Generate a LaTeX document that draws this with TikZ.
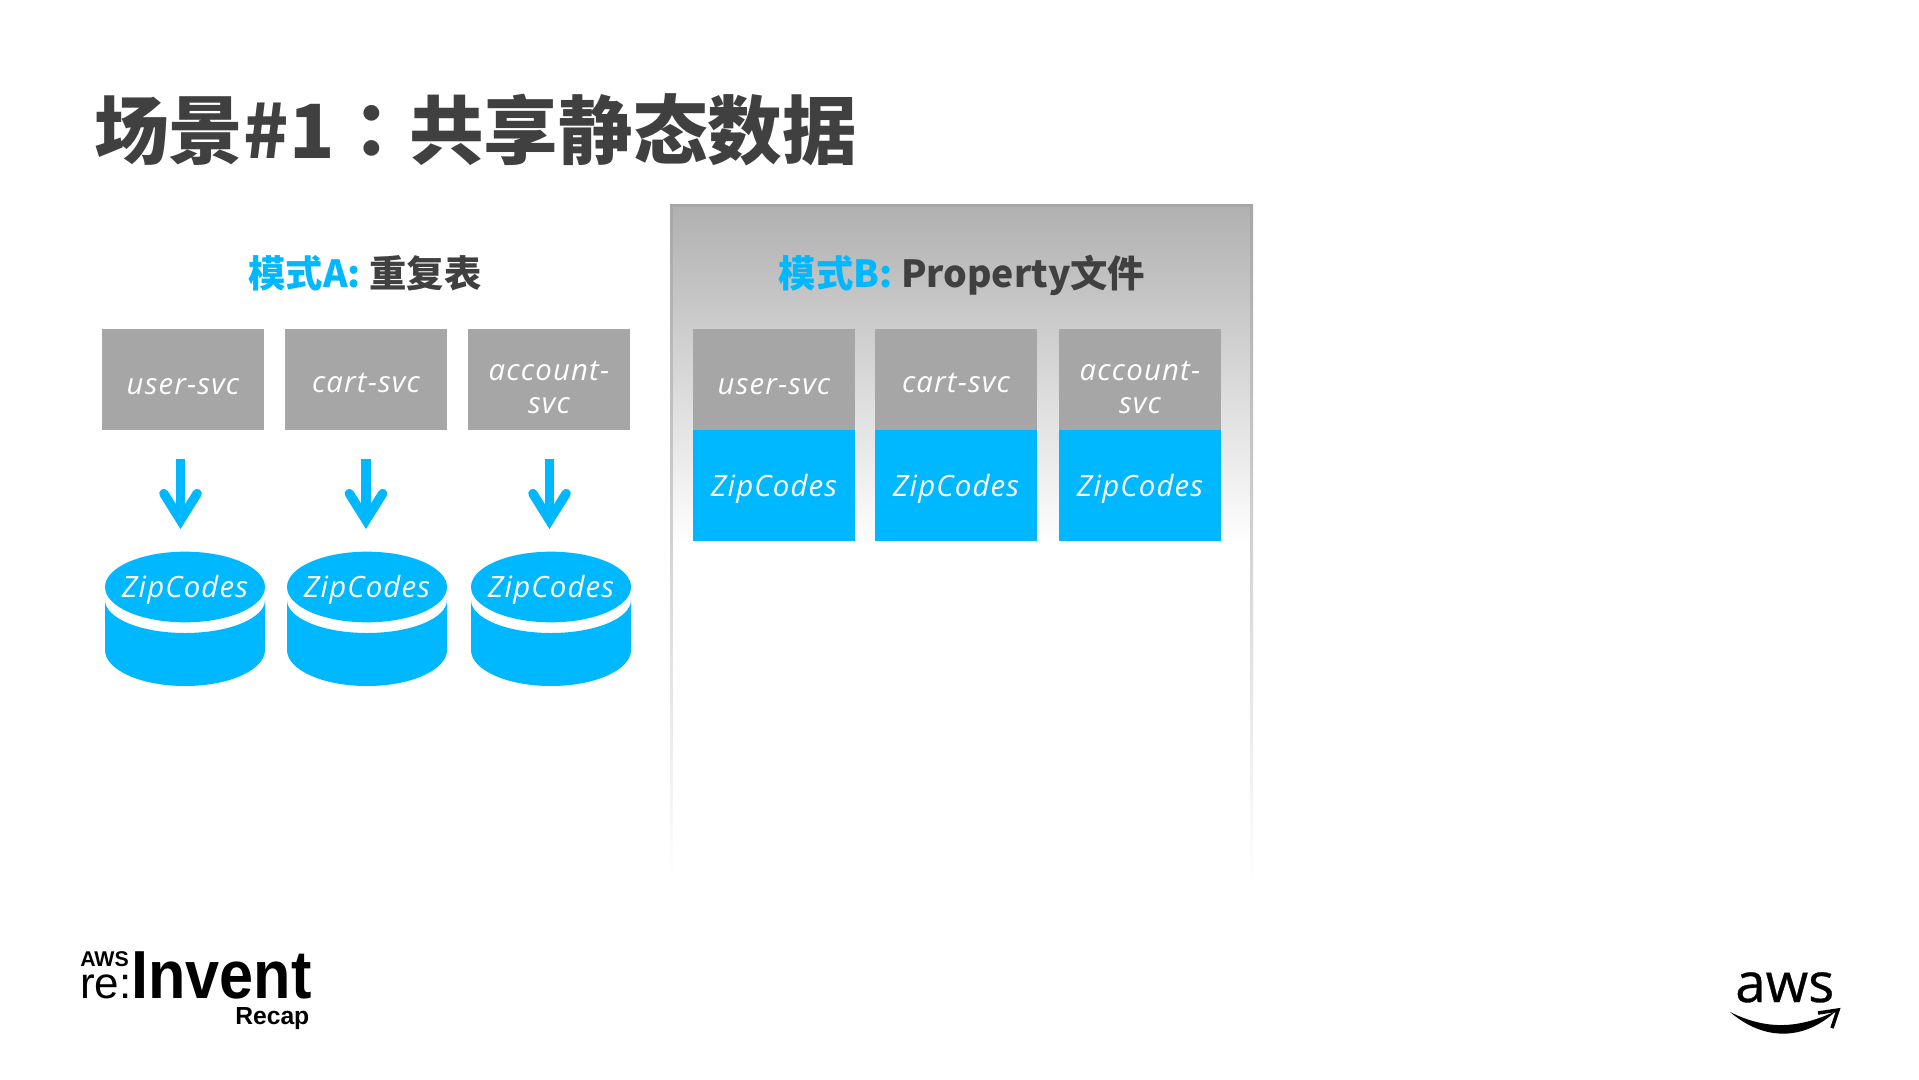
\documentclass[tikz,border=0pt]{standalone}
\usepackage{fontspec}
\usetikzlibrary{arrows.meta,shapes.geometric}
\newfontfamily\cjkfont{Noto Sans CJK SC}
\newfontfamily\cjktc{Noto Sans CJK TC}
\newfontfamily\hand[LetterSpace=4]{Open Sans}
\newfontfamily\logofont{Liberation Sans}
\newfontfamily\awsfont[FakeBold=0.6]{Open Sans}
\definecolor{bluefill}{HTML}{00B8FF}
\definecolor{boxgray}{HTML}{A6A6A6}
\definecolor{titlegray}{HTML}{404040}
\definecolor{paneltop}{HTML}{B0B0B0}
\definecolor{panelmid}{HTML}{C6C6C6}
\newcommand{\lbl}[2]{\makebox[0pt][c]{\raisebox{#1}[0pt][0pt]{\begin{tabular}{@{}c@{}}#2\end{tabular}}}}
\tikzset{
  handtext/.style={text=white,font=\hand\itshape\fontsize{22}{24.5}\selectfont},
  svcbox/.style={rectangle,fill=boxgray,minimum width=121.5pt,minimum height=75.75pt,inner sep=0pt,handtext},
  zipbox/.style={rectangle,fill=bluefill,minimum width=121.5pt,minimum height=83.25pt,inner sep=0pt,handtext},
  diskcap/.style={ellipse,fill=bluefill,minimum width=120pt,minimum height=53pt,inner sep=0pt,handtext},
  diskbody/.style={fill=bluefill},
  flowarrow/.style={draw=bluefill,line width=7pt,
    -{Straight Barb[length=20pt,width=25pt,line cap=round,line join=miter]}},
  heading/.style={inner sep=0pt,font=\cjkfont\bfseries\fontsize{28}{32}\selectfont,text=titlegray},
  sideedge/.style={top color=boxgray,middle color=boxgray!75!white,bottom color=white}
}
\newcommand{\diskbodyat}[1]{%
  \path[diskbody] (#1-80,600) arc[start angle=180,end angle=0,x radius=80,y radius=33]
    -- (#1+80,650) arc[start angle=0,end angle=180,x radius=80,y radius=36] -- cycle;}
\begin{document}
\begin{tikzpicture}[x=0.75pt,y=-0.75pt]
\useasboundingbox (0,0) rectangle (1919,1079);
\fill[white] (0,0) rectangle (1919,1079);

% Title
\node[anchor=base west,inner sep=0pt,text=titlegray,font=\cjkfont\bfseries\fontsize{56}{60}\selectfont] (title) at (94,158) {场景\#1{\cjktc\bfseries ：}共享静态数据};

% Panel B background
\shade[top color=paneltop,middle color=panelmid,bottom color=white] (671,205) rectangle (1252,545);
\shade[sideedge] (670,204) rectangle (672.5,881);
\shade[sideedge] (1250.5,204) rectangle (1253,881);
\fill[boxgray] (670,204) rectangle (1253,206.5);

% Headings
\node[heading] (headA) at (365,273) {\textcolor{bluefill}{模式A:} 重复表};
\node[heading] (headB) at (962,275) {\textcolor{bluefill}{模式B:} Property文件};

% Pattern A services
\node[svcbox] (ua) at (183,379.5) {\lbl{-11.3pt}{user-svc}};
\node[svcbox] (ca) at (366,379.5) {\lbl{-10.3pt}{cart-svc}};
\node[svcbox] (aa) at (549,379.5) {\lbl{-13.3pt}{account-\\svc}};

% Pattern A disks
\diskbodyat{185}
\diskbodyat{367}
\diskbodyat{551}
\node[diskcap] (za) at (185,587) {\lbl{-8.3pt}{ZipCodes}};
\node[diskcap] (zb) at (367,587) {\lbl{-8.3pt}{ZipCodes}};
\node[diskcap] (zc) at (551,587) {\lbl{-8.3pt}{ZipCodes}};

% Arrows
\coordinate (a1s) at (180.5,459); \coordinate (a1e) at (180.5,529);
\coordinate (a2s) at (366,459);   \coordinate (a2e) at (366,529);
\coordinate (a3s) at (549.5,459); \coordinate (a3e) at (549.5,529);
\draw[flowarrow] (a1s) -- (a1e);
\draw[flowarrow] (a2s) -- (a2e);
\draw[flowarrow] (a3s) -- (a3e);

% Pattern B
\node[svcbox] (ub) at (774,379.5) {\lbl{-11.3pt}{user-svc}};
\node[svcbox] (cb) at (956,379.5) {\lbl{-10.3pt}{cart-svc}};
\node[svcbox] (ab) at (1140,379.5) {\lbl{-13.3pt}{account-\\svc}};
\node[zipbox] (zub) at (774,485.5) {\lbl{-8.3pt}{ZipCodes}};
\node[zipbox] (zcb) at (956,485.5) {\lbl{-8.3pt}{ZipCodes}};
\node[zipbox] (zab) at (1140,485.5) {\lbl{-8.3pt}{ZipCodes}};

% re:Invent Recap logo
\node[anchor=base west,inner sep=0pt,font=\logofont\bfseries\fontsize{51}{51}\selectfont,xscale=.9] (inv) at (131,998) {Invent};
\node[anchor=base west,inner sep=0pt,font=\logofont\fontsize{33}{33}\selectfont] (re) at (80,998) {re:};
\node[anchor=base west,inner sep=0pt,font=\logofont\bfseries\fontsize{16}{16}\selectfont] (aws1) at (80,966) {AWS};
\node[anchor=base west,inner sep=0pt,font=\logofont\bfseries\fontsize{18.5}{18.5}\selectfont] (recap) at (235,1024) {Recap};

% aws logo
\node[anchor=base west,inner sep=0pt,font=\awsfont\fontsize{41}{41}\selectfont] (awsl) at (1735,1002) {aws};
\coordinate (s1) at (1730,1012); \coordinate (s2) at (1836,1011);
\fill (s1) .. controls (1765,1042) and (1805,1040) .. (s2) .. controls (1800,1028) and (1768,1031) .. cycle;
\draw[line width=2.6pt,line join=miter] (1818,1013) -- (1838,1010) -- (1832,1028);
\end{tikzpicture}
\end{document}
